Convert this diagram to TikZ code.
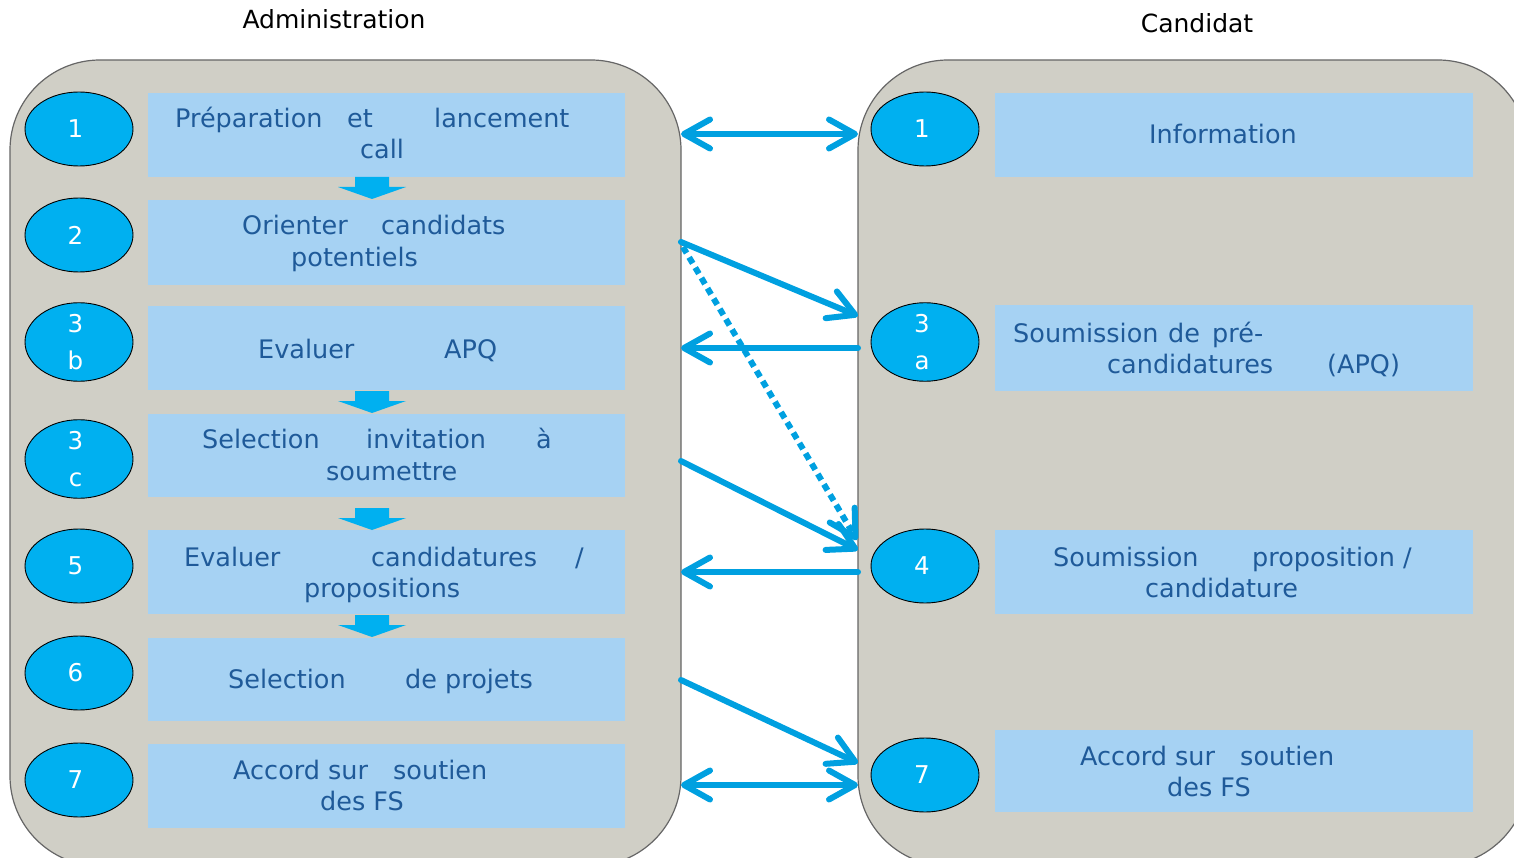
\documentclass[tikz,border=0pt]{standalone}
\usepackage{fontspec}
\setmainfont{DejaVu Sans}
\usetikzlibrary{arrows.meta,shapes.geometric}
\definecolor{panelgray}{HTML}{D0CFC6}
\definecolor{boxblue}{HTML}{A6D2F3}
\definecolor{ellcyan}{HTML}{00B0F0}
\definecolor{arrowblue}{HTML}{00A0E0}
\definecolor{txtblue}{HTML}{1F5A99}
\begin{document}
\begin{tikzpicture}[x=1pt,y=-1pt,
  panel/.style={fill=panelgray, draw=black!60, line width=1.2pt, rounded corners=90pt},
  stepbox/.style={fill=boxblue, draw=none, inner sep=0},
  num/.style={ellipse, draw=black, line width=0.9pt, fill=ellcyan, minimum width=108pt, minimum height=74pt, inner sep=0, text=white, font=\fontsize{24.5}{37}\selectfont, align=center},
  word/.style={anchor=base west, inner sep=0, text=txtblue, font=\fontsize{25.5}{28}\selectfont},
  title/.style={anchor=base, inner sep=0, text=black, font=\fontsize{25}{28}\selectfont},
  barb/.tip={Straight Barb[length=26pt,width=29pt,round]},
  link/.style={draw=arrowblue, line width=6pt, line cap=round, -barb},
  dlink/.style={draw=arrowblue, line width=6pt, line cap=round, barb-barb},
  dotlink/.style={draw=arrowblue, line width=6pt, dash pattern=on 7pt off 5pt, -barb},
  downarrow/.pic={\fill[ellcyan] (-17,0) -- (17,0) -- (17,10) -- (34,10) -- (0,22) -- (-34,10) -- (-17,10) -- cycle;}
]
\useasboundingbox (0,0) rectangle (1514,858);
\clip (0,0) rectangle (1514,858);
% panels
\path[panel] (10,60) rectangle (681,866);
\path[panel] (858,60) rectangle (1528,866);
% titles
\node[title] (tA) at (334,29) {Administration};
\node[title] (tC) at (1197,33) {Candidat};
% left boxes
\node[stepbox, minimum width=477pt, minimum height=84pt] (b1) at (386.5,135) {};
\node[stepbox, minimum width=477pt, minimum height=85pt] (b2) at (386.5,242.5) {};
\node[stepbox, minimum width=477pt, minimum height=84pt] (b3) at (386.5,348) {};
\node[stepbox, minimum width=477pt, minimum height=83pt] (b4) at (386.5,455.5) {};
\node[stepbox, minimum width=477pt, minimum height=84pt] (b5) at (386.5,572) {};
\node[stepbox, minimum width=477pt, minimum height=83pt] (b6) at (386.5,679.5) {};
\node[stepbox, minimum width=477pt, minimum height=84pt] (b7) at (386.5,786) {};
% right boxes
\node[stepbox, minimum width=478pt, minimum height=84pt] (r1) at (1234,135) {};
\node[stepbox, minimum width=478pt, minimum height=85pt] (r3) at (1234,348) {};
\node[stepbox, minimum width=478pt, minimum height=84pt] (r4) at (1234,572) {};
\node[stepbox, minimum width=478pt, minimum height=82pt] (r7) at (1234,771) {};
% block arrows
\pic at (372,177) {downarrow};
\pic at (372,391) {downarrow};
\pic at (372,508) {downarrow};
\pic at (372,615) {downarrow};
% number ellipses
\node[num] (e1) at (79,129) {\hspace*{-7pt}1};
\node[num] (e2) at (79,235) {\hspace*{-7pt}2};
\node[num] (e3b) at (79,342) {\hspace*{-7pt}3\\\hspace*{-7pt}b};
\node[num] (e3c) at (79,459) {\hspace*{-7pt}3\\\hspace*{-7pt}c};
\node[num] (e5) at (79,566) {\hspace*{-7pt}5};
\node[num] (e6) at (79,673) {\hspace*{-7pt}6};
\node[num] (e7) at (79,780) {\hspace*{-7pt}7};
\node[num] (f1) at (925,129) {\hspace*{-6pt}1};
\node[num] (f3a) at (925,342) {\hspace*{-6pt}3\\\hspace*{-6pt}a};
\node[num] (f4) at (925,566) {\hspace*{-6pt}4};
\node[num] (f7) at (925,775) {\hspace*{-6pt}7};
% left texts
\node[word] (w11) at (175,128) {Préparation};
\node[word] (w12) at (347,128) {et};
\node[word] (w13) at (434,128) {lancement};
\node[word] (w14) at (360,159) {call};
\node[word] (w21) at (242,235) {Orienter};
\node[word] (w22) at (381,235) {candidats};
\node[word] (w23) at (291,267) {potentiels};
\node[word] (w31) at (258,358) {Evaluer};
\node[word] (w32) at (444,358) {APQ};
\node[word] (w41) at (202,448) {Selection};
\node[word] (w42) at (366,448) {invitation};
\node[word] (w43) at (536,448) {à};
\node[word] (w44) at (326,480) {soumettre};
\node[word] (w51) at (184,566) {Evaluer};
\node[word] (w52) at (371,566) {candidatures};
\node[word] (w53) at (575,566) {/};
\node[word] (w54) at (304,597) {propositions};
\node[word] (w61) at (228,688) {Selection};
\node[word] (w62) at (405,688) {de projets};
\node[word] (w71) at (233,779) {Accord sur};
\node[word] (w72) at (393,779) {soutien};
\node[word] (w73) at (320,810) {des FS};
% right texts
\node[word, anchor=base] (v11) at (1223,144) {Information};
\node[word] (v31) at (1013,342) {Soumission};
\node[word] (v32) at (1168,342) {de};
\node[word] (v33) at (1212,342) {pré-};
\node[word] (v34) at (1107,373) {candidatures};
\node[word] (v35) at (1327,373) {(APQ)};
\node[word] (v41) at (1053,566) {Soumission};
\node[word] (v42) at (1252,566) {proposition /};
\node[word] (v43) at (1145,597) {candidature};
\node[word] (v71) at (1080,765) {Accord sur};
\node[word] (v72) at (1240,765) {soutien};
\node[word] (v73) at (1167,796) {des FS};
% connector end points on the panel edges
\coordinate (pL1) at (681,134);   \coordinate (pR1) at (858,134);
\coordinate (pL2) at (681,242);   \coordinate (pR3t) at (858,316);
\coordinate (pL2d) at (683,247);  \coordinate (pR4d) at (857,540);
\coordinate (pR3) at (858,348);   \coordinate (pL3) at (681,348);
\coordinate (pL4) at (681,461);   \coordinate (pR4t) at (858,550);
\coordinate (pR4) at (858,572);   \coordinate (pL5) at (681,572);
\coordinate (pL6) at (681,680);   \coordinate (pR7t) at (858,763);
\coordinate (pL7) at (681,785);   \coordinate (pR7) at (858,785);
% connectors
\draw[dlink] (pL1) -- (pR1);
\draw[link] (pL2) -- (pR3t);
\draw[dotlink] (pL2d) -- (pR4d);
\draw[link] (pR3) -- (pL3);
\draw[link] (pL4) -- (pR4t);
\draw[link] (pR4) -- (pL5);
\draw[link] (pL6) -- (pR7t);
\draw[dlink] (pL7) -- (pR7);
\end{tikzpicture}
\end{document}
